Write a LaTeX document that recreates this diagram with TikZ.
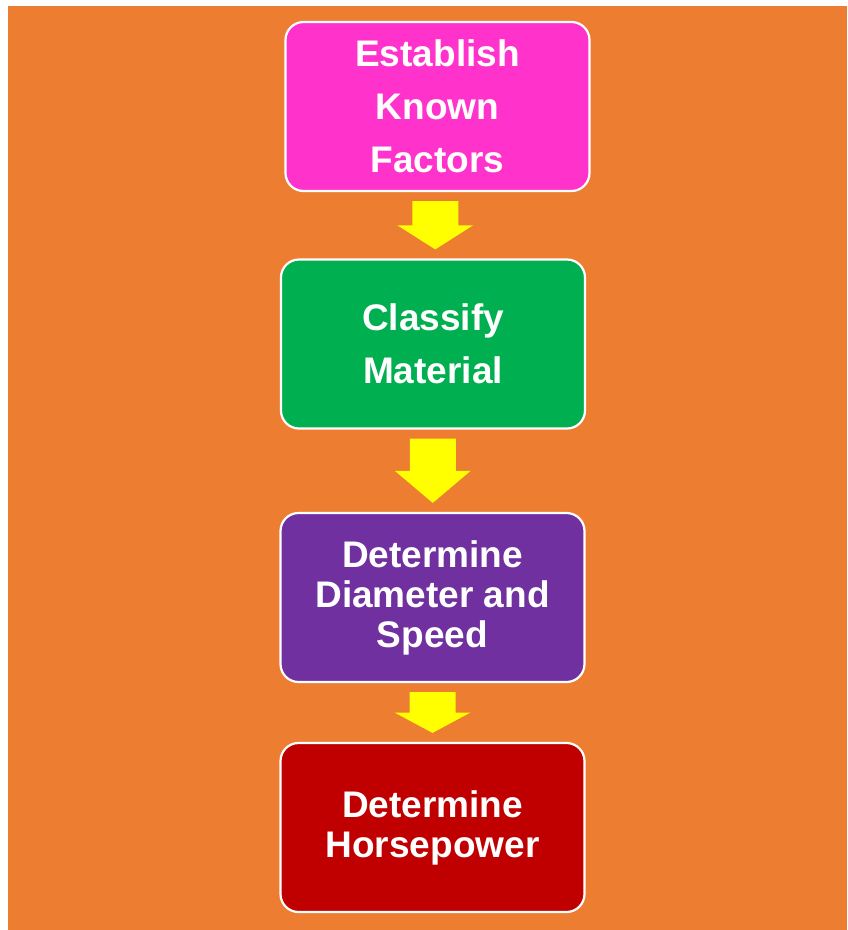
\documentclass[tikz,border=0pt]{standalone}
\usepackage{fontspec}
\setmainfont{Liberation Sans}
\usetikzlibrary{calc}
\definecolor{bgc}{HTML}{ED7D31}
\definecolor{Kc}{HTML}{FF33CC}
\definecolor{Cc}{HTML}{00B050}
\definecolor{Dc}{HTML}{7030A0}
\definecolor{Hc}{HTML}{C00000}
\definecolor{Yc}{HTML}{FFFF00}
\tikzset{
  stage/.style={rectangle, rounded corners=18pt, draw=white, line width=2.2pt,
    minimum width=304pt, minimum height=169pt, inner sep=0pt, align=center,
    text=white},
  wide/.style={font=\fontsize{37}{53}\selectfont\bfseries},
  tight/.style={font=\fontsize{37}{40}\selectfont\bfseries},
  flow/.style={fill=Yc},
}

\begin{document}
\begin{tikzpicture}[x=1pt, y=-1pt]
  \fill[white] (0,0) rectangle (847,930);
  \fill[bgc] (8,6) rectangle (847,930);
  \useasboundingbox (0,0) rectangle (847,930);
  \node[stage, wide, fill=Kc] (known) at (437.5,106.5) {Establish\\Known\\Factors};
  \node[stage, wide, fill=Cc] (classify) at (433,344) {Classify\\Material};
  \node[stage, tight, fill=Dc] (diameter) at (432.5,597.5) {Determine\\Diameter and\\Speed};
  \node[stage, tight, fill=Hc] (power) at (432.5,827.5) {Determine\\Horsepower};
  % block arrows between the stages
  \foreach \a/\b in {known/classify, classify/diameter, diameter/power}
    \fill[flow] let \p1=(\a.south), \p2=(\b.north), \n1={\y1-9pt}, \n2={\y2+9pt},
      \n3={(\n1+\n2)/2}, \n4={(\x1+\x2)/2} in
      (\n4-23pt,\n1) -- (\n4+23pt,\n1) -- (\n4+23pt,\n3) -- (\n4+38pt,\n3)
      -- (\n4,\n2) -- (\n4-38pt,\n3) -- (\n4-23pt,\n3) -- cycle;
\end{tikzpicture}
\end{document}
